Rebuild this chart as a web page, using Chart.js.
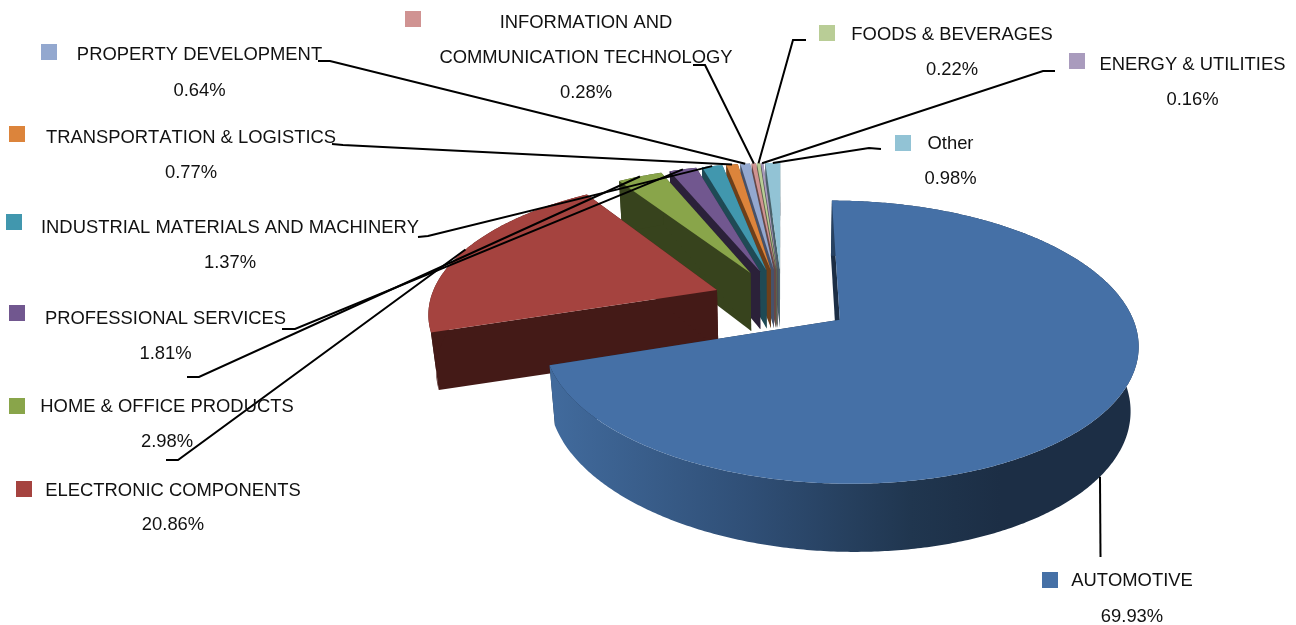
<!DOCTYPE html>
<html>
<head>
<meta charset="utf-8">
<title>Sales by industry</title>
<script src="https://cdn.jsdelivr.net/npm/chart.js@4"></script>
<style>
  html, body { margin: 0; padding: 0; background: #fff; overflow: hidden; }
  canvas { display: block; }
</style>
</head>
<body>
<canvas id="grafico" width="1296" height="625"></canvas>
<script>
// industry names and their share in percent
var categories = ['AUTOMOTIVE', 'ELECTRONIC COMPONENTS', 'HOME & OFFICE PRODUCTS', 'PROFESSIONAL SERVICES',
    'INDUSTRIAL MATERIALS AND MACHINERY', 'TRANSPORTATION & LOGISTICS', 'PROPERTY DEVELOPMENT',
    'INFORMATION AND COMMUNICATION TECHNOLOGY', 'FOODS & BEVERAGES', 'ENERGY & UTILITIES', 'Other'];
var shares = [69.93, 20.86, 2.98, 1.81, 1.37, 0.77, 0.64, 0.28, 0.22, 0.16, 0.98];

// top faces and the darker cut walls
var topColors = ['#4570A6', '#A5433F', '#89A54A', '#71578F', '#4197AE', '#DC843B', '#93A8CF', '#D09392', '#B9CD96', '#A99BBD', '#92C3D5'];
var wallColors = ['#1C2E45', '#441A17', '#37431D', '#2B2139', '#1F4A55', '#6D3F1A', '#47526A', '#684847', '#5C664A', '#544D5E', '#49616A'];

// camera for the tilted disc: u,v are in radii on the disc, h is 0 on top and 1 underneath
var tilt = { a: 132, b: -0.155, c: 287, d: 61, e: 0.022, roll: 3 };

function project(arc, u, v, h) {
    var w = 1 + tilt.b * v + tilt.e * h;
    return {
        x: arc.x + tilt.c * u / w,
        y: arc.y + (tilt.a * v + (tilt.d + tilt.roll * u) * h) / w
    };
}

// point on an exploded slice, r = 0 is its apex and r = 1 its rim
function slicePoint(arc, angle, r, h) {
    var mid = (arc.startAngle + arc.endAngle) / 2;
    var shift = arc.options.offset / arc.outerRadius;
    return project(arc, shift * Math.cos(mid) + r * Math.cos(angle), shift * Math.sin(mid) + r * Math.sin(angle), h);
}

function rimPoints(arc, h) {
    var pts = [];
    var steps = Math.max(2, Math.ceil((arc.endAngle - arc.startAngle) / 0.01));
    for (var i = 0; i <= steps; i++) {
        pts.push(slicePoint(arc, arc.startAngle + (arc.endAngle - arc.startAngle) * i / steps, 1, h));
    }
    return pts;
}

function fillPoly(ctx, pts, fill) {
    ctx.beginPath();
    pts.forEach(function (p, i) {
        if (i === 0) ctx.moveTo(p.x, p.y); else ctx.lineTo(p.x, p.y);
    });
    ctx.closePath();
    ctx.fillStyle = fill;
    ctx.fill();
}

// draws the arcs as extruded slices, back ones first
var pie3d = {
    id: 'pie3d',
    beforeDatasetsDraw: function (chart) {
        var ctx = chart.ctx;
        var arcs = chart.getDatasetMeta(0).data;

        var rimShade = ctx.createLinearGradient(555, 0, 1000, 0);
        rimShade.addColorStop(0, '#416A9C');
        rimShade.addColorStop(0.45, '#2F4E75');
        rimShade.addColorStop(0.8, '#20364F');
        rimShade.addColorStop(1, '#1C2E45');

        for (var i = arcs.length - 1; i >= 0; i--) {
            var arc = arcs[i];
            var wall = wallColors[i];
            var apexTop = slicePoint(arc, 0, 0, 0);
            var apexBottom = slicePoint(arc, 0, 0, 1);
            var top = rimPoints(arc, 0);
            var bottom = rimPoints(arc, 1);

            fillPoly(ctx, [apexTop, top[0], bottom[0], apexBottom], wall);
            fillPoly(ctx, [apexTop, top[top.length - 1], bottom[bottom.length - 1], apexBottom], wall);
            fillPoly(ctx, top.concat(bottom.slice().reverse()), i === 0 ? rimShade : wall);
            fillPoly(ctx, [apexTop].concat(top), topColors[i]);
        }
        return false;
    }
};

// label blocks around the pie: swatch corner, centre of the text, baselines, leader start
var labelFont = '18.4px "Liberation Sans", Arial, sans-serif';
var labelBlocks = [
    { swatch: [1042, 572], cx: 1132, lines: [['AUTOMOTIVE', 586]], pct: 622, leader: [[1100.5, 557]], depth: 1 },
    { swatch: [16, 481], cx: 173, lines: [['ELECTRONIC COMPONENTS', 496]], pct: 530, leader: [[166, 460], [178, 460]], depth: 0 },
    { swatch: [9, 398], cx: 167, lines: [['HOME & OFFICE PRODUCTS', 412]], pct: 447, leader: [[187, 377], [199, 377]], depth: 0 },
    { swatch: [9, 305], cx: 165.5, lines: [['PROFESSIONAL SERVICES', 324]], pct: 359, leader: [[282, 329], [295, 329]], depth: 0 },
    { swatch: [6, 214], cx: 230, lines: [['INDUSTRIAL MATERIALS AND MACHINERY', 233]], pct: 268, leader: [[418, 237], [428, 236]], depth: 0 },
    { swatch: [9, 126], cx: 191, lines: [['TRANSPORTATION & LOGISTICS', 143]], pct: 178, leader: [[332, 144], [343, 145]], depth: 0 },
    { swatch: [41, 44], cx: 199.5, lines: [['PROPERTY DEVELOPMENT', 60]], pct: 96, leader: [[318, 61], [330, 61]], depth: 0 },
    { swatch: [405, 11], cx: 586, lines: [['INFORMATION AND', 28], ['COMMUNICATION TECHNOLOGY', 63]], pct: 98, leader: [[693, 65], [705, 65]], depth: 0 },
    { swatch: [819, 25], cx: 952, lines: [['FOODS & BEVERAGES', 40]], pct: 75, leader: [[806, 40], [793, 40]], depth: 0 },
    { swatch: [1069, 53], cx: 1192.5, lines: [['ENERGY & UTILITIES', 70]], pct: 105, leader: [[1055, 71], [1043, 71]], depth: 0 },
    { swatch: [895, 135], cx: 950.5, lines: [['Other', 149]], pct: 184, leader: [[881, 149], [869, 148]], depth: 0 }
];

var pieLabels = {
    id: 'pieLabels',
    afterDraw: function (chart) {
        var ctx = chart.ctx;
        var arcs = chart.getDatasetMeta(0).data;
        ctx.save();
        labelBlocks.forEach(function (block, i) {
            var arc = arcs[i];
            var mid = (arc.startAngle + arc.endAngle) / 2;
            var end = slicePoint(arc, mid, 1, block.depth);

            ctx.beginPath();
            ctx.moveTo(block.leader[0][0], block.leader[0][1]);
            block.leader.slice(1).forEach(function (p) { ctx.lineTo(p[0], p[1]); });
            ctx.lineTo(end.x, end.y);
            ctx.strokeStyle = '#000';
            ctx.lineWidth = 2;
            ctx.stroke();

            ctx.fillStyle = topColors[i];
            ctx.fillRect(block.swatch[0], block.swatch[1], 16, 16);

            ctx.font = labelFont;
            ctx.fontKerning = 'none';
            ctx.fillStyle = '#111';
            ctx.textAlign = 'center';
            ctx.textBaseline = 'alphabetic';
            block.lines.forEach(function (line) { ctx.fillText(line[0], block.cx, line[1]); });
            ctx.fillText(shares[i].toFixed(2) + '%', block.cx, block.pct);
        });
        ctx.restore();
    }
};

var ctx = document.querySelector('#grafico').getContext('2d');
var pieChart = new Chart(ctx, {
    type: 'pie',
    data: {
        labels: categories,
        datasets: [{
            data: shares,
            backgroundColor: topColors,
            borderWidth: 0,
            offset: 70,
            radius: 288
        }]
    },
    options: {
        responsive: false,
        animation: false,
        layout: { padding: { left: 268, bottom: 24 } },
        plugins: { legend: { display: false }, tooltip: { enabled: false } }
    },
    plugins: [pie3d, pieLabels]
});
</script>
</body>
</html>
